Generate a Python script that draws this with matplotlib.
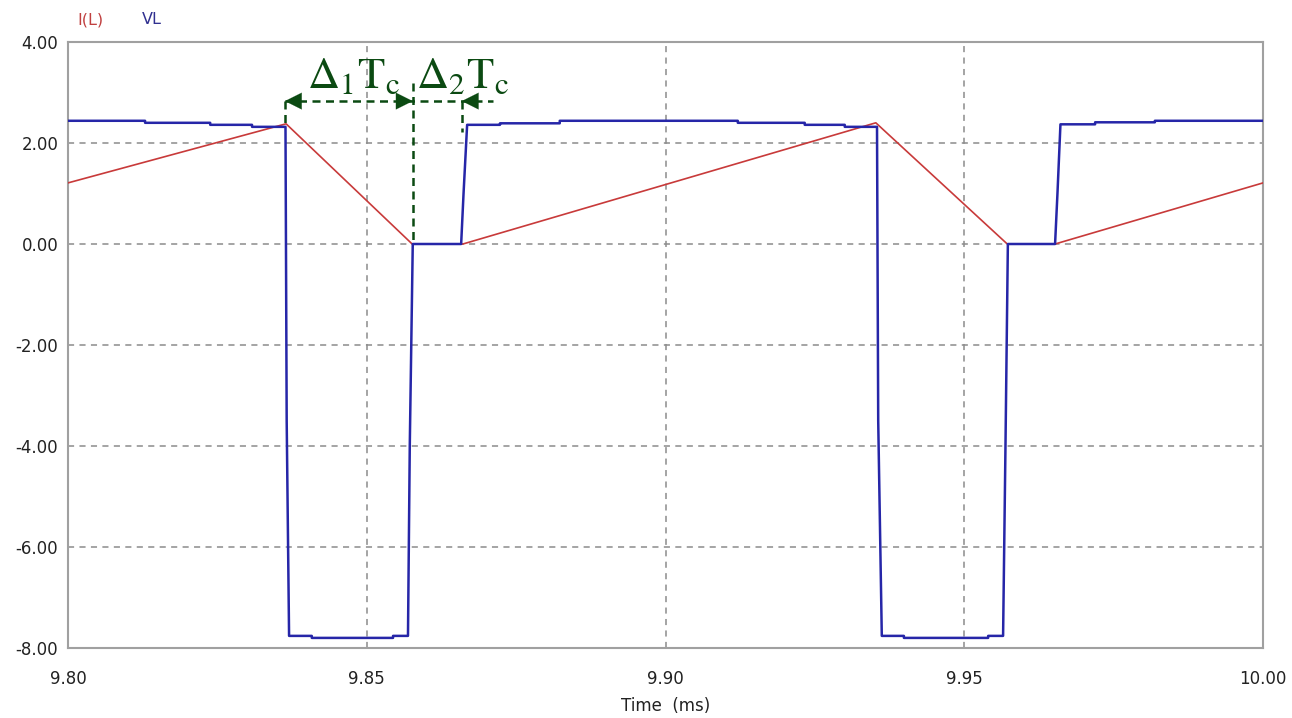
import matplotlib
matplotlib.use("Agg")
import matplotlib.pyplot as plt

# ---------------- data ----------------
x_ticks = [9.80, 9.85, 9.90, 9.95, 10.00]
x_tick_labels = ["9.80", "9.85", "9.90", "9.95", "10.00"]
y_ticks = [-8, -6, -4, -2, 0, 2, 4]
y_tick_labels = ["-8.00", "-6.00", "-4.00", "-2.00", "0.00", "2.00", "4.00"]

# inductor current I(L)
il_t = [9.8000, 9.8365, 9.8576, 9.8661, 9.9352, 9.9572, 9.9652, 10.0000]
il_v = [1.21, 2.38, 0.00, 0.00, 2.40, 0.00, 0.00, 1.21]

# inductor voltage VL
vl_t = [9.8000, 9.8129, 9.8129, 9.8238, 9.8238, 9.8308, 9.8308, 9.8364, 9.8366, 9.8370,
        9.8408, 9.8408, 9.8544, 9.8544, 9.8569, 9.8572, 9.8577, 9.8658, 9.8662, 9.8668,
        9.8723, 9.8723, 9.8823, 9.8823, 9.9121, 9.9121, 9.9233, 9.9233, 9.9300, 9.9300,
        9.9354, 9.9356, 9.9362, 9.9399, 9.9399, 9.9540, 9.9540, 9.9565, 9.9569, 9.9573,
        9.9652, 9.9656, 9.9661, 9.9719, 9.9719, 9.9819, 9.9819, 10.0000]
vl_v = [2.44, 2.44, 2.40, 2.40, 2.36, 2.36, 2.32, 2.32, -3.50, -7.76,
        -7.76, -7.80, -7.80, -7.76, -7.76, -4.00, 0.00, 0.00, 1.00, 2.36,
        2.36, 2.39, 2.39, 2.44, 2.44, 2.40, 2.40, 2.36, 2.36, 2.32,
        2.32, -3.50, -7.76, -7.76, -7.80, -7.80, -7.76, -7.76, -4.00, 0.00,
        0.00, 1.00, 2.37, 2.37, 2.41, 2.41, 2.44, 2.44]

# annotation marks (time in ms, value)
t_d1_start = 9.8363
t_d1_end = 9.8577
t_d2_end = 9.8659
t_dash_end = 9.8711
y_arrow = 2.83

# ---------------- style ----------------
BLUE = "#2626a8"
RED = "#c83a3a"
GREEN = "#0b4a12"
GRID = "#8c8c8c"
SPINE = "#a0a0a0"

fig = plt.figure(figsize=(12.92, 7.18), dpi=100)
ax = fig.add_axes([68 / 1292, 1 - 648 / 718, (1263 - 68) / 1292, (648 - 42) / 718])

ax.plot(il_t, il_v, color=RED, lw=1.2, zorder=3)
ax.plot(vl_t, vl_v, color=BLUE, lw=1.8, zorder=4)

ax.set_xlim(9.80, 10.00)
ax.set_ylim(-8, 4)
ax.set_xticks(x_ticks)
ax.set_xticklabels(x_tick_labels)
ax.set_yticks(y_ticks)
ax.set_yticklabels(y_tick_labels)
ax.tick_params(axis="both", length=0, labelsize=12, colors="#222222")
ax.tick_params(axis="x", pad=16)
ax.tick_params(axis="y", pad=7)
ax.grid(True, color=GRID, linestyle=(0, (4, 3.5)), lw=1.1)
ax.set_axisbelow(True)
for s in ax.spines.values():
    s.set_color(SPINE)
    s.set_linewidth(1.5)

ax.set_xlabel("Time  (ms)", fontsize=12, color="#222222", labelpad=6)

fig.text(77 / 1292, 1 - 20 / 718, "I(L)", color="#c04040", fontsize=11.5, va="center", ha="left")
fig.text(142 / 1292, 1 - 20 / 718, "VL", color="#303090", fontsize=11.5, va="center", ha="left")

# ---------------- annotations ----------------
dash = (0, (3.2, 2.2))
ax.plot([t_d1_start, t_dash_end], [y_arrow, y_arrow], color=GREEN, lw=1.8, linestyle=dash, zorder=5)
ax.plot([t_d1_start, t_d1_start], [y_arrow, 2.32], color=GREEN, lw=1.8, linestyle=dash, zorder=5)
ax.plot([t_d1_end, t_d1_end], [3.19, 0.0], color=GREEN, lw=1.8, linestyle=dash, zorder=5)
ax.plot([t_d2_end, t_d2_end], [y_arrow, 2.22], color=GREEN, lw=1.8, linestyle=dash, zorder=5)

head = dict(arrowstyle="-|>,head_length=0.6,head_width=0.3", mutation_scale=20,
            color=GREEN, lw=0.1, shrinkA=0, shrinkB=0)
ax.annotate("", xy=(t_d1_start, y_arrow), xytext=(12, 0), textcoords="offset points",
            arrowprops=head, zorder=6)
ax.annotate("", xy=(t_d1_end, y_arrow), xytext=(-12, 0), textcoords="offset points",
            arrowprops=head, zorder=6)
ax.annotate("", xy=(t_d2_end, y_arrow), xytext=(12, 0), textcoords="offset points",
            arrowprops=head, zorder=6)

plt.rcParams["mathtext.fontset"] = "stix"
ax.text(9.8400, 3.09, r"$\Delta_1\mathrm{T}_\mathrm{c}$", color=GREEN, fontsize=32,
        ha="left", va="baseline", zorder=6)
ax.text(9.8583, 3.09, r"$\Delta_2\mathrm{T}_\mathrm{c}$", color=GREEN, fontsize=32,
        ha="left", va="baseline", zorder=6)

fig.savefig("out.png", dpi=100)
